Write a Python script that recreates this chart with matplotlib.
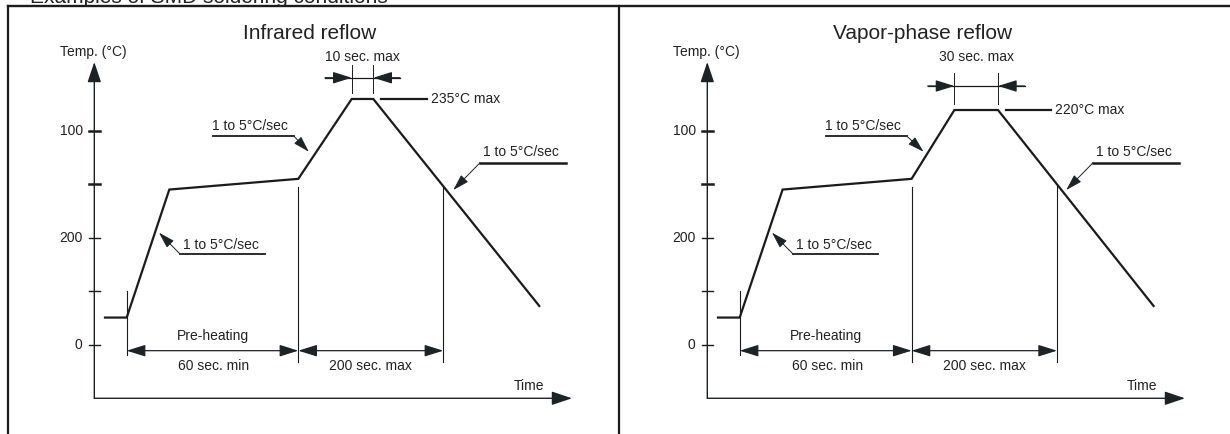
import numpy as np
import matplotlib.pyplot as plt

plt.rcParams["font.family"] = ["Liberation Sans", "DejaVu Sans"]

# reflow profiles: schematic time units vs temperature (deg C)
ir_time = [10.7, 32.4, 75.0, 204.0, 257.4, 279.0, 445.0]
ir_temp = [25.6, 25.6, 145.0, 155.0, 229.5, 229.5, 36.4]
vp_time = [10.7, 32.4, 75.3, 204.3, 247.1, 290.7, 446.3]
vp_temp = [25.6, 25.6, 145.0, 155.0, 219.2, 219.2, 36.4]
cool_mark = [349.0, 349.7]          # end of the "200 sec. max" span

ytick_pos = [0, 50, 100, 150, 200]
ytick_lab = ["0", "", "200", "", "100"]
ytick_thick = [False, False, False, True, True]

titles = ["Infrared reflow", "Vapor-phase reflow"]
peak_time_lab = ["10 sec. max", "30 sec. max"]
peak_temp_lab = ["235°C max", "220°C max"]
slope_lab = "1 to 5°C/sec"
header = "Examples of SMD soldering conditions"

INK = "#1b1b1b"
HEAD = "#1c2327"
TXT = "#222222"
W, H = 1230, 434
K = 1.072   # px per degree

fig = plt.figure(figsize=(W / 100, H / 100), dpi=100)
bg = fig.add_axes([0, 0, 1, 1])
bg.set_xlim(0, W)
bg.set_ylim(H, 0)
bg.axis("off")
bg.plot([8, W], [6, 6], color=INK, lw=1.7)
bg.plot([8, 8], [6, H], color=INK, lw=1.6)
bg.plot([619, 619], [6, H], color=INK, lw=1.6)
bg.text(30, 3.3, header, fontsize=15, color=TXT, va="baseline", ha="left")


def arrow(ax, tip, tail, style="-|>", hl=1.15, hw=0.36, lw=0.9):
    ax.annotate("", xy=tip, xytext=tail,
                arrowprops=dict(arrowstyle=f"{style},head_length={hl},head_width={hw}",
                                color=HEAD, lw=lw, shrinkA=0, shrinkB=0,
                                mutation_scale=10), annotation_clip=False)


def panel(px0, ox, t, temp, i):
    ax = fig.add_axes([px0 / W, 0, 611 / W, (H - 7) / H])
    ax.set_xlim(px0 - ox, px0 - ox + 611)
    ax.set_ylim((345 - H) / K, (345 - 7) / K)
    ax.axis("off")

    # axes with arrows
    arrow(ax, (0, 264), (0, -49.7), hl=1.25, hw=0.42, lw=1.0)
    arrow(ax, (477.7, -49.7), (0, -49.7), hl=1.25, hw=0.42, lw=1.0)
    for p, lab, thick in zip(ytick_pos, ytick_lab, ytick_thick):
        ax.plot([-5.3, 5.7], [p, p], color=INK, lw=1.8 if thick else 1.0)
        ax.text(-11.6, p, lab, ha="right", va="center", fontsize=10, color=TXT)
    ax.text(-34.3, 273.3, "Temp. (°C)", ha="left", va="center", fontsize=10, color=TXT)
    ax.text(215, 291, titles[i], ha="center", va="center", fontsize=15, color=TXT)
    ax.text(434.7, -38.2, "Time", ha="center", va="center", fontsize=10, color=TXT)

    # profile
    ax.plot(t, temp, color=INK, lw=1.6, solid_joinstyle="miter")

    # marker verticals
    ax.plot([t[1], t[1]], [50.4, -9.3], color=INK, lw=0.8)
    ax.plot([t[3], t[3]], [temp[3] - 8, -15.6], color=INK, lw=0.8)
    yc = np.interp(cool_mark[i], t, temp)
    ax.plot([cool_mark[i], cool_mark[i]], [yc, -15.6], color=INK, lw=0.8)

    # preheat / 200 sec spans
    arrow(ax, (t[3], -5.3), (t[1], -5.3), style="<|-|>")
    arrow(ax, (cool_mark[i], -5.3), (t[3], -5.3), style="<|-|>")
    ax.text((t[1] + t[3]) / 2, 8.4, "Pre-heating", ha="center", va="center", fontsize=10, color=TXT)
    ax.text((t[1] + t[3]) / 2 + 1.5, -19.6, "60 sec. min", ha="center", va="center", fontsize=10, color=TXT)
    ax.text((t[3] + cool_mark[i]) / 2, -19.3, "200 sec. max", ha="center", va="center", fontsize=10, color=TXT)

    # peak time span
    dy = [249.3, 241.6][i]
    lx0, lx1 = t[4] - 26.7, t[5] + 26.7
    ax.plot([lx0, lx1], [dy, dy], color=INK, lw=0.9)
    arrow(ax, (t[4], dy), (lx0, dy))
    arrow(ax, (t[5], dy), (lx1, dy))
    for x in (t[4], t[5]):
        ax.plot([x, x], [dy + 12, temp[4] + 5.5], color=INK, lw=0.7)
    ax.text((t[4] + t[5]) / 2, 268.9, peak_time_lab[i], ha="center", va="center", fontsize=10, color=TXT)

    # peak temperature
    ax.plot([t[5] + 7.7, t[5] + 53.3], [temp[5], temp[5]], color=INK, lw=1.6)
    ax.text(t[5] + 57.3, temp[5], peak_temp_lab[i], ha="left", va="center", fontsize=10, color=TXT)

    # slope notes
    ax.plot([85.7, 170.7], [84.9, 84.9], color=INK, lw=1.3)
    arrow(ax, (64.7, 104.8), (85.7, 84.9), hl=1.0, hw=0.3, lw=0.7)
    ax.text(88.4, 93.3, slope_lab, ha="left", va="center", fontsize=10, color=TXT)

    ax.plot([118.7, 199.4], [195, 195], color=INK, lw=1.3)
    arrow(ax, ([214.5, 216.2][i], 180.3), (199.4, 195), hl=1.0, hw=0.3, lw=0.7)
    ax.text(117.7, 204.3, slope_lab, ha="left", va="center", fontsize=10, color=TXT)

    ax.plot([385.7, 471.4], [170, 170], color=INK, lw=1.8)
    arrow(ax, (359, 144.6), (385.7, 170), hl=1.0, hw=0.3, lw=0.7)
    ax.text(388.7, 179.8, slope_lab, ha="left", va="center", fontsize=10, color=TXT)


panel(8, 94.3, ir_time, ir_temp, 0)
panel(619, 707.3, vp_time, vp_temp, 1)

fig.savefig("out.png", dpi=100)
